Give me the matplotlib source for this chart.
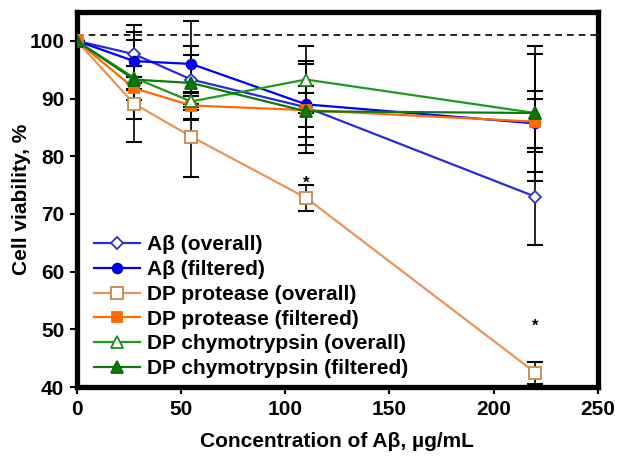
import matplotlib
matplotlib.use("Agg")
import matplotlib.pyplot as plt

plt.rcParams['font.family'] = ['Liberation Sans Narrow', 'Liberation Sans', 'DejaVu Sans']
plt.rcParams['font.weight'] = 'bold'

conc = [0, 27.5, 55, 110, 220]

ab_overall = [100, 97.7, 93.3, 88.5, 73.0]
ab_overall_err = [0, 5.0, 4.2, 8.0, 8.4]
ab_filtered = [100, 96.5, 96.0, 89.0, 85.7]
ab_filtered_err = [0, 5.0, 7.5, 7.0, 4.2]
prot_overall = [100, 89.1, 83.4, 72.8, 42.5]
prot_overall_err = [0, 6.6, 7.0, 2.2, 1.9]
prot_filtered = [100, 91.8, 88.8, 88.0, 86.0]
prot_filtered_err = [0, 2.0, 2.4, 3.0, 5.3]
chymo_overall = [100, 93.6, 89.5, 93.3, 87.5]
chymo_overall_err = [0, 2.0, 1.5, 5.8, 10.3]
chymo_filtered = [100, 93.3, 92.7, 87.8, 87.5]
chymo_filtered_err = [0, 6.8, 6.4, 4.4, 11.7]

labels = ['Aβ (overall)', 'Aβ (filtered)', 'DP protease (overall)',
          'DP protease (filtered)', 'DP chymotrypsin (overall)',
          'DP chymotrypsin (filtered)']

stars_x = [110, 220]
stars_y = [75.3, 50.5]


def plot():
    fig = plt.figure(figsize=(6.24, 4.63), dpi=100)
    ax = fig.add_axes([0.123, 0.164, 0.835, 0.81])

    series = [
        (ab_overall, ab_overall_err, '#2a2ad8', 'D', 'white', '#3030c0', 6),
        (ab_filtered, ab_filtered_err, '#0000ff', 'o', '#0000ff', '#0000cc', 7),
        (prot_overall, prot_overall_err, '#e8945a', 's', 'white', '#c8884a', 8),
        (prot_filtered, prot_filtered_err, '#ff6a00', 's', '#ff6a00', '#ff6a00', 7),
        (chymo_overall, chymo_overall_err, '#1e9a1e', '^', 'white', '#1e8a1e', 8),
        (chymo_filtered, chymo_filtered_err, '#0a7a0a', '^', '#0a7a0a', '#0a6a0a', 8),
    ]

    # error bars first, all black
    for vals, err, *_ in series:
        ax.errorbar(conc, vals, yerr=err, fmt='none', ecolor='black',
                    elinewidth=1.2, capsize=5.5, capthick=1.5, zorder=2)

    for (vals, err, lc, mk, fc, ec, ms), lab in zip(series, labels):
        ax.plot(conc, vals, color=lc, marker=mk, markerfacecolor=fc,
                markeredgecolor=ec, markeredgewidth=1.3, markersize=ms,
                linewidth=1.6, label=lab, zorder=3)

    ax.axhline(101, color='black', linestyle=(0, (4, 3)), linewidth=1.2, zorder=1)

    for sx, sy in zip(stars_x, stars_y):
        ax.text(sx, sy, '*', ha='center', va='center', fontsize=12, color='black')

    ax.set_xlim(0, 250)
    ax.set_ylim(40, 105)
    ax.set_xticks([0, 50, 100, 150, 200, 250])
    ax.set_yticks([40, 50, 60, 70, 80, 90, 100])
    ax.tick_params(direction='out', length=5, width=1.5, labelsize=15, pad=4)
    for s in ax.spines.values():
        s.set_linewidth(3.8)

    ax.set_xlabel('Concentration of Aβ, µg/mL', fontsize=15, fontweight='bold',
                  labelpad=10)
    ax.set_ylabel('Cell viability, %', fontsize=15, fontweight='bold',
                  labelpad=-1)

    ax.legend(loc='lower left', frameon=False, fontsize=15, handlelength=2.2,
              handletextpad=0.3, labelspacing=0.28, borderaxespad=0.2,
              bbox_to_anchor=(0.01, -0.01))

    fig.savefig('out.png', dpi=100)


if __name__ == "__main__":
    plot()
